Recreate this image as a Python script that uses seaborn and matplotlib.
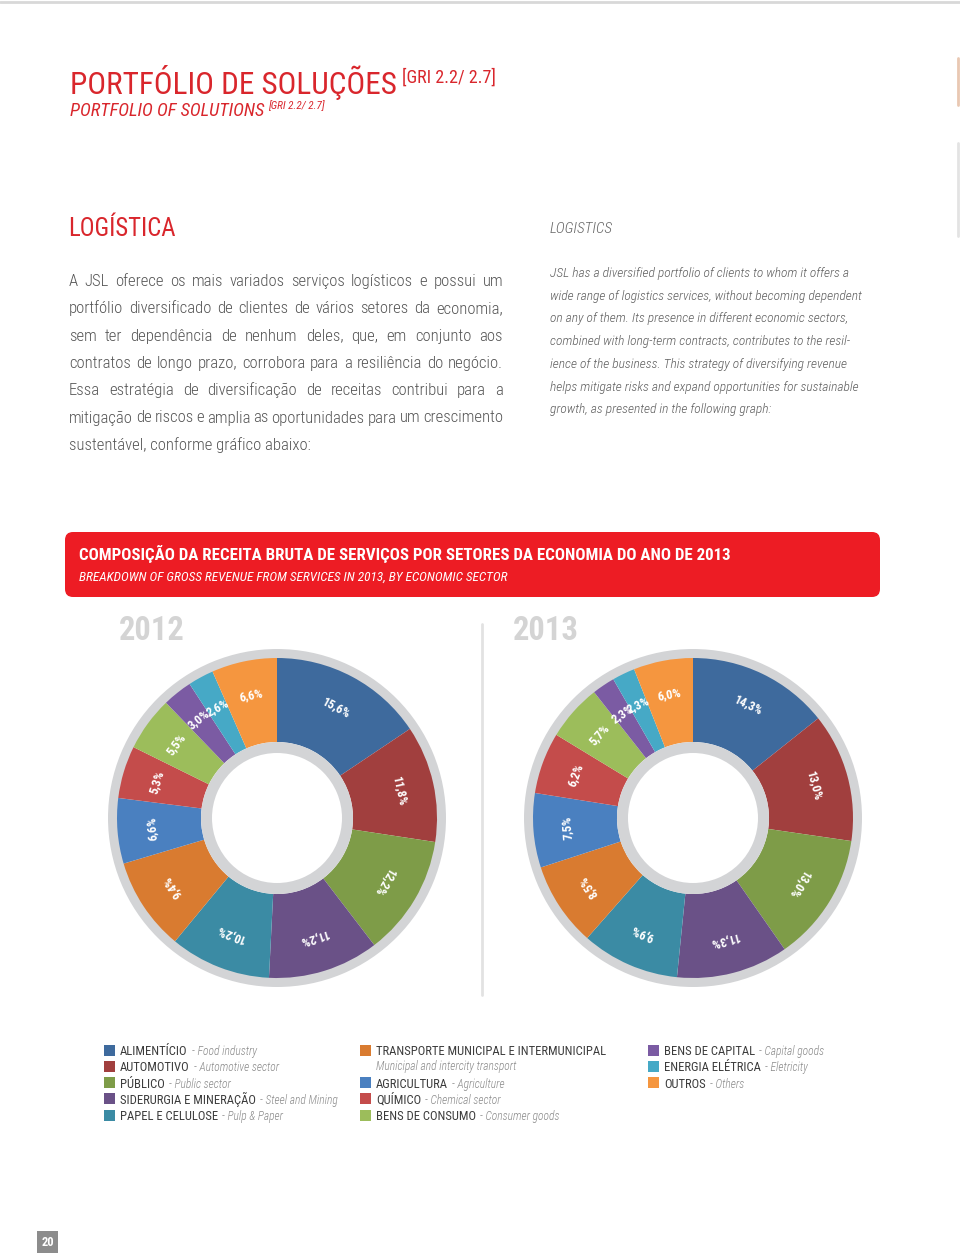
import numpy as np
import pandas as pd
import seaborn as sns
import matplotlib
matplotlib.use("Agg")
import matplotlib.pyplot as plt
from matplotlib.patches import Wedge, FancyBboxPatch, Rectangle

# ---------------- data ----------------
sectors_pt = ["ALIMENTÍCIO", "AUTOMOTIVO", "PÚBLICO", "SIDERURGIA E MINERAÇÃO",
              "PAPEL E CELULOSE", "TRANSPORTE MUNICIPAL E INTERMUNICIPAL",
              "AGRICULTURA", "QUÍMICO", "BENS DE CONSUMO", "BENS DE CAPITAL",
              "ENERGIA ELÉTRICA", "OUTROS"]
sectors_en = ["Food industry", "Automotive sector", "Public sector", "Steel and Mining",
              "Pulp & Paper", "Municipal and intercity transport", "Agriculture",
              "Chemical sector", "Consumer goods", "Capital goods", "Eletricity", "Others"]
share_2012 = [15.6, 11.8, 12.2, 11.2, 10.2, 9.4, 6.6, 5.3, 5.5, 3.0, 2.6, 6.6]
share_2013 = [14.3, 13.0, 13.0, 11.3, 9.9, 8.5, 7.5, 6.2, 5.7, 2.3, 2.3, 6.0]
years = ["2012", "2013"]
sector_colors = ["#3e6a9d", "#a13f3e", "#7e9c48", "#6a5187", "#3b8ba4", "#d97b30",
                 "#4a80c0", "#c44c4b", "#9cbd5b", "#7b5ba3", "#46a9c6", "#f5963f"]

para_pt = [
    "A JSL oferece os mais variados serviços logísticos e possui um",
    "portfólio diversificado de clientes de vários setores da economia,",
    "sem ter dependência de nenhum deles, que, em conjunto aos",
    "contratos de longo prazo, corrobora para a resiliência do negócio.",
    "Essa estratégia de diversificação de receitas contribui para a",
    "mitigação de riscos e amplia as oportunidades para um crescimento",
    "sustentável, conforme gráfico abaixo:",
]
para_en = [
    "JSL has a diversified portfolio of clients to whom it offers a",
    "wide range of logistics services, without becoming dependent",
    "on any of them. Its presence in different economic sectors,",
    "combined with long-term contracts, contributes to the resil-",
    "ience of the business. This strategy of diversifying revenue",
    "helps mitigate risks and expand opportunities for sustainable",
    "growth, as presented in the following graph:",
]

# ---------------- style ----------------
sns.set_theme(style="white")
FONT = ["Roboto Condensed", "Archivo Narrow", "Liberation Sans Narrow", "DejaVu Sans"]
plt.rcParams["font.family"] = FONT
plt.rcParams["font.stretch"] = "condensed"

W, H = 960, 1254
fig = plt.figure(figsize=(W / 100, H / 100), dpi=100)
fig.patch.set_facecolor("white")
bg = fig.add_axes([0, 0, 1, 1])
bg.set_xlim(0, W)
bg.set_ylim(H, 0)
bg.axis("off")
renderer = fig.canvas.get_renderer()

RED = "#d9262c"
TXT = "#555555"

# page decorations
bg.plot([0, W], [1.5, 1.5], color="#d8d8d8", lw=2)
bg.plot([958, 958], [58, 105], color="#e9c8b2", lw=2)
bg.plot([958, 958], [143, 236], color="#e3e3e3", lw=2)

# titles
t = bg.text(70, 94, "PORTFÓLIO DE SOLUÇÕES", color=RED, fontsize=22.5, va="baseline")
bb = t.get_window_extent(renderer)
bg.text(70 + bb.width + 5, 83, "[GRI 2.2/ 2.7]", color=RED, fontsize=13, va="baseline")
t = bg.text(70, 116, "PORTFOLIO OF SOLUTIONS", color=RED, fontsize=13.3, style="italic", va="baseline")
bb = t.get_window_extent(renderer)
bg.text(70 + bb.width + 4, 109, "[GRI 2.2/ 2.7]", color=RED, fontsize=8, style="italic", va="baseline")

bg.text(68, 236, "LOGÍSTICA", color=RED, fontsize=17.8, va="baseline")
bg.text(550, 233, "LOGISTICS", color="#666666", fontsize=11, style="italic",
        fontweight="light", va="baseline")


def justify(lines, x0, x1, y0, dy, last_left=True, **kw):
    for i, line in enumerate(lines):
        y = y0 + i * dy
        words = line.split(" ")
        if i == len(lines) - 1 and last_left:
            bg.text(x0, y, line, va="baseline", **kw)
            continue
        ts = [bg.text(0, y, w, va="baseline", **kw) for w in words]
        ws = [tt.get_window_extent(renderer).width for tt in ts]
        gap = (x1 - x0 - sum(ws)) / max(len(words) - 1, 1)
        x = x0
        for tt, w in zip(ts, ws):
            tt.set_x(x)
            x += w + gap


justify(para_pt, 69, 503, 286, 27.3, color=TXT, fontsize=12, fontweight="light")
for i, line in enumerate(para_en):
    bg.text(550, 277 + i * 22.7, line, color="#606060", fontsize=9.7, style="italic",
            fontweight="light", va="baseline")

# red header box
box = FancyBboxPatch((70, 537), 805, 55, boxstyle="round,pad=5,rounding_size=8",
                     facecolor="#ed1c24", edgecolor="none")
bg.add_patch(box)
bg.text(79, 560, "COMPOSIÇÃO DA RECEITA BRUTA DE SERVIÇOS POR SETORES DA ECONOMIA DO ANO DE 2013",
        color="white", fontsize=12.2, fontweight="bold", va="baseline")
bg.text(79, 581, "BREAKDOWN OF GROSS REVENUE FROM SERVICES IN 2013, BY ECONOMIC SECTOR",
        color="white", fontsize=9.5, style="italic", va="baseline")

# separator
bg.plot([481.5, 481.5], [624, 995], color="#e2e2e2", lw=2)

# ---------------- donuts ----------------
GRAY = "#d3d4d6"
centers = [(277, 818), (693, 818)]
year_x = [119, 513]
R_OUT, R_IN = 160, 76
half = 185
for year, vals, (cx, cy), yx in zip(years, [share_2012, share_2013], centers, year_x):
    bg.text(yx, 640, year, color="#d4d4d4", fontsize=23.5, fontweight="bold", va="baseline")
    ax = fig.add_axes([(cx - half) / W, 1 - (cy + half) / H, 2 * half / W, 2 * half / H])
    ax.set_xlim(-half, half)
    ax.set_ylim(-half, half)
    ax.set_aspect("equal")
    ax.axis("off")
    df = pd.DataFrame({"sector": sectors_pt, "share": vals})
    labels = [f"{v:.1f}%".replace(".", ",") for v in df["share"]]
    ax.add_patch(Wedge((0, 0), 169, 0, 360, width=10, facecolor=GRAY, edgecolor="none"))
    wedges, texts = ax.pie(df["share"], colors=sector_colors, startangle=90, counterclock=False,
                           radius=R_OUT, labels=labels, labeldistance=0.785,
                           wedgeprops=dict(width=R_OUT - R_IN, linewidth=0),
                           textprops=dict(color="white", fontsize=9, fontweight="bold",
                                          ha="center", va="center"))
    for w, tx in zip(wedges, texts):
        mid = (w.theta1 + w.theta2) / 2
        tx.set_rotation(mid - 90)
        tx.set_rotation_mode("anchor")
        tx.set_ha("center")
        tx.set_va("center")
    ax.add_patch(Wedge((0, 0), R_IN, 0, 360, width=11, facecolor=GRAY, edgecolor="none"))
    ax.set_xlim(-half, half)
    ax.set_ylim(-half, half)

# ---------------- legend ----------------
col_x = [104, 360, 648]
row_y0, row_dy = 1050, 16.3
slots = [(0, 0), (0, 1), (0, 2), (0, 3), (0, 4),
         (1, 0), (1, 2), (1, 3), (1, 4),
         (2, 0), (2, 1), (2, 2)]
for i, (c, r) in enumerate(slots):
    x = col_x[c]
    y = row_y0 + r * row_dy
    bg.add_patch(Rectangle((x, y - 5.5), 11, 11, facecolor=sector_colors[i], edgecolor="none"))
    tt = bg.text(x + 16, y + 5, sectors_pt[i], color="#3c3c3c", fontsize=9.1, va="baseline")
    if i == 5:
        bg.text(x + 16, y + row_dy + 4, sectors_en[i], color="#8a8a8a", fontsize=8.3,
                style="italic", fontweight="light", va="baseline")
    else:
        wdt = tt.get_window_extent(renderer).width
        bg.text(x + 16 + wdt + 4, y + 5, "- " + sectors_en[i], color="#8a8a8a", fontsize=8.3,
                style="italic", fontweight="light", va="baseline")

# page number
bg.add_patch(Rectangle((37, 1231), 21, 22, facecolor="#8c8c8c", edgecolor="none"))
bg.text(47.5, 1242, "20", color="white", fontsize=9, fontweight="bold", ha="center", va="center")

fig.savefig("out.png", dpi=100, facecolor="white")
